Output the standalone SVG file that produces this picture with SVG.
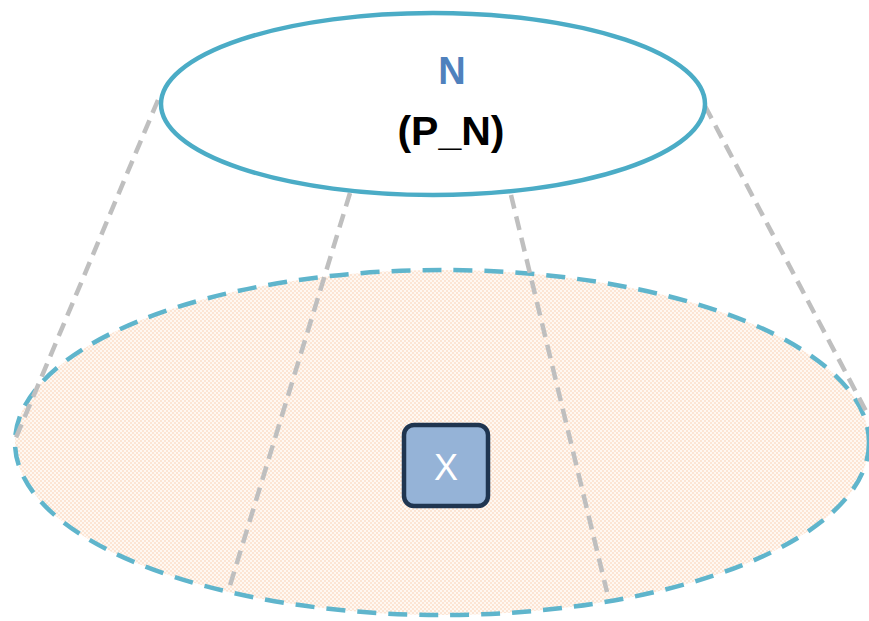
<svg xmlns="http://www.w3.org/2000/svg" width="869" height="621" viewBox="0 0 869 621">
<style>
.base{fill:url(#dots);stroke:#5FB5CC;stroke-width:4.5;stroke-dasharray:19 12}
.guide{stroke:#BFBFBF;stroke-width:4.5;stroke-dasharray:14 8;fill:none}
.top{fill:#FFFFFF;stroke:#4BACC6;stroke-width:4.5}
.lbl{font-family:"Liberation Sans",Arial,sans-serif;font-weight:bold;text-anchor:middle}
</style>
<defs>
<pattern id="dots" width="4" height="4" patternUnits="userSpaceOnUse">
<rect width="4" height="4" fill="#FFF8F2"/>
<rect width="2" height="2" fill="#FCE5D4"/>
<rect x="2" y="2" width="2" height="2" fill="#FCE5D4"/>
</pattern>
</defs>
<rect width="869" height="621" fill="#FFFFFF"/>
<g id="base-set">
<ellipse class="base" cx="442" cy="442.5" rx="427" ry="172.5"/>
</g>
<g id="connectors">
<line class="guide" x1="158" y1="100" x2="15" y2="440"/>
<line class="guide" x1="350" y1="193" x2="228" y2="592"/>
<line class="guide" x1="511" y1="195" x2="607" y2="592"/>
<line class="guide" x1="705" y1="106" x2="866" y2="411"/>
</g>
<g id="node-N">
<ellipse class="top" cx="433" cy="104" rx="272" ry="91"/>
<text class="lbl" x="452" y="84" font-size="38" fill="#4F81BD">N</text>
<text class="lbl" x="451" y="145" font-size="41" fill="#000000">(P_N)</text>
</g>
<g id="node-X">
<rect x="404" y="425" width="84" height="81" rx="10" fill="#95B3D7" stroke="#1F3550" stroke-width="4.5"/>
<text x="446" y="480" font-family="Liberation Sans,Arial,sans-serif" font-size="36" fill="#FFFFFF" text-anchor="middle">X</text>
</g>
</svg>
